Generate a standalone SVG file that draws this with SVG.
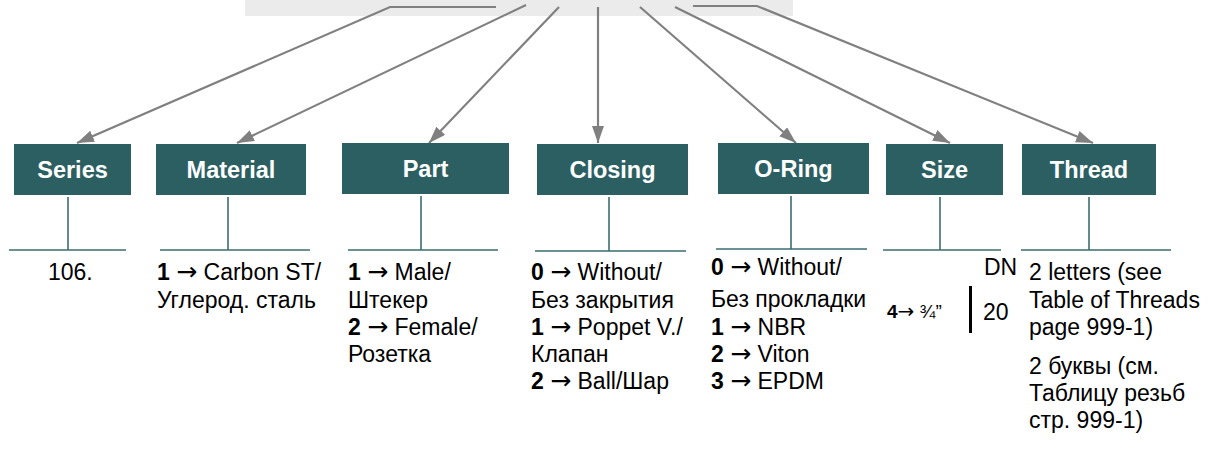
<svg xmlns="http://www.w3.org/2000/svg" width="1218" height="452" viewBox="0 0 1218 452">
<defs>
<marker id="ah" markerUnits="userSpaceOnUse" markerWidth="20" markerHeight="14" refX="17" refY="6" orient="auto">
<path d="M0,0 L17,6 L0,12 Z" fill="#808080"/>
</marker>
<style>
.box{fill:#2B5F62}
.hd{font-family:"Liberation Sans",Arial,sans-serif;font-weight:bold;font-size:23.5px;fill:#ffffff;text-anchor:middle}
.tx{font-family:"Liberation Sans",Arial,"DejaVu Sans",sans-serif;font-size:23px;fill:#000000}
.sm{font-family:"Liberation Sans",Arial,"DejaVu Sans",sans-serif;font-size:19px;fill:#000000}
.b{font-weight:bold}
.ar{font-family:"DejaVu Sans",sans-serif;font-size:25px}
.stem{stroke:#3D6E70;stroke-width:1.6;fill:none}
.conn{stroke:#808080;stroke-width:2.2;fill:none}
</style>
</defs>
<rect x="245" y="0" width="548" height="16" fill="#EBEBEB"/>
<g id="connectors">
<path class="conn" d="M496,7 H390 L77,143" marker-end="url(#ah)"/>
<path class="conn" d="M526,5 L237,143" marker-end="url(#ah)"/>
<path class="conn" d="M559,7 L429,143" marker-end="url(#ah)"/>
<path class="conn" d="M598,7 V143" marker-end="url(#ah)"/>
<path class="conn" d="M640,7 L796,143" marker-end="url(#ah)"/>
<path class="conn" d="M675,7 L950,143" marker-end="url(#ah)"/>
<path class="conn" d="M693,6 H757 L1093,143" marker-end="url(#ah)"/>
</g>
<g id="series">
<rect class="box" x="14" y="144" width="117" height="51"/>
<text class="hd" x="72.5" y="178">Series</text>
<path class="stem" d="M68,197 V250 M9,250 H126"/>
<text class="tx" x="48" y="280">106.</text>
</g>
<g id="material">
<rect class="box" x="156" y="144" width="150" height="51"/>
<text class="hd" x="231" y="178">Material</text>
<path class="stem" d="M228,197 V250 M160,250 H310"/>
<text class="tx" x="157" y="280"><tspan class="b">1</tspan> <tspan class="ar">→</tspan> Carbon ST/</text>
<text class="tx" x="157" y="308">Углерод. сталь</text>
</g>
<g id="part">
<rect class="box" x="342" y="143" width="167" height="51"/>
<text class="hd" x="425.5" y="177">Part</text>
<path class="stem" d="M421,196 V250 M348,250 H498"/>
<text class="tx" x="348" y="280"><tspan class="b">1</tspan> <tspan class="ar">→</tspan> Male/</text>
<text class="tx" x="348" y="308">Штекер</text>
<text class="tx" x="348" y="335"><tspan class="b">2</tspan> <tspan class="ar">→</tspan> Female/</text>
<text class="tx" x="348" y="362">Розетка</text>
</g>
<g id="closing">
<rect class="box" x="537" y="144" width="151" height="51"/>
<text class="hd" x="612.5" y="178">Closing</text>
<path class="stem" d="M609,197 V251 M535,251 H686"/>
<text class="tx" x="531" y="280"><tspan class="b">0</tspan> <tspan class="ar">→</tspan> Without/</text>
<text class="tx" x="531" y="308">Без закрытия</text>
<text class="tx" x="531" y="335"><tspan class="b">1</tspan> <tspan class="ar">→</tspan> Poppet V./</text>
<text class="tx" x="531" y="362">Клапан</text>
<text class="tx" x="531" y="389"><tspan class="b">2</tspan> <tspan class="ar">→</tspan> Ball/Шар</text>
</g>
<g id="oring">
<rect class="box" x="718" y="143" width="151" height="51"/>
<text class="hd" x="793.5" y="177">O-Ring</text>
<path class="stem" d="M791,196 V249 M716,249 H867"/>
<text class="tx" x="711" y="275"><tspan class="b">0</tspan> <tspan class="ar">→</tspan> Without/</text>
<text class="tx" x="711" y="307">Без прокладки</text>
<text class="tx" x="711" y="335"><tspan class="b">1</tspan> <tspan class="ar">→</tspan> NBR</text>
<text class="tx" x="711" y="362"><tspan class="b">2</tspan> <tspan class="ar">→</tspan> Viton</text>
<text class="tx" x="711" y="389"><tspan class="b">3</tspan> <tspan class="ar">→</tspan> EPDM</text>
</g>
<g id="size">
<rect class="box" x="886" y="144" width="117" height="51"/>
<text class="hd" x="944.5" y="178">Size</text>
<path class="stem" d="M940,197 V250 M883,250 H1001"/>
<text class="tx" x="984" y="275">DN</text>
<text class="sm" x="887" y="318"><tspan class="b">4</tspan><tspan font-family="DejaVu Sans, sans-serif" font-size="20">→</tspan> ¾”</text>
<rect x="969" y="286" width="3" height="47" fill="#000000"/>
<text class="tx" x="983" y="320">20</text>
</g>
<g id="thread">
<rect class="box" x="1022" y="144" width="134" height="51"/>
<text class="hd" x="1089" y="178">Thread</text>
<path class="stem" d="M1089,197 V250 M1021,250 H1171"/>
<text class="tx" x="1029" y="280">2 letters (see</text>
<text class="tx" x="1029" y="308">Table of Threads</text>
<text class="tx" x="1029" y="335">page 999-1)</text>
<text class="tx" x="1029" y="374">2 буквы (см.</text>
<text class="tx" x="1029" y="401">Таблицу резьб</text>
<text class="tx" x="1029" y="428">стр. 999-1)</text>
</g>
</svg>
